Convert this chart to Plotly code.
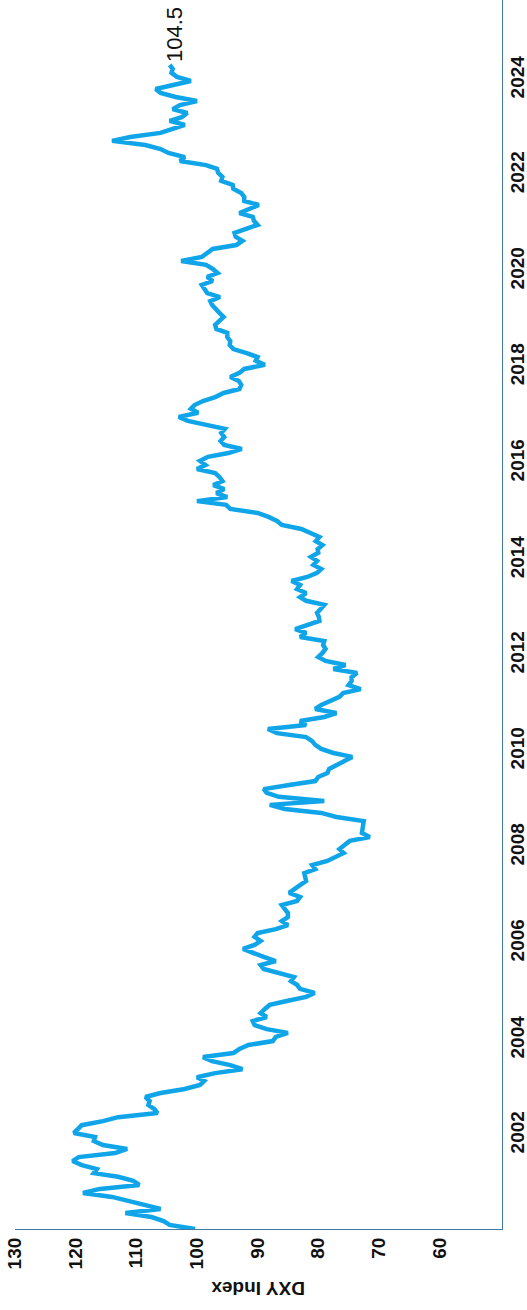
import pandas as pd
import plotly.graph_objects as go

# Monthly DXY index readings, Jan 2000 .. Apr 2024
dxy_2000 = [100.3, 104.5, 105.5, 107.5, 111.8, 106.0, 108.5, 111.0, 114.0, 118.8, 116.0, 109.5]
dxy_2001 = [110.5, 113.0, 117.0, 116.5, 119.0, 120.5, 119.5, 113.5, 111.5, 115.5, 117.0, 116.8]
dxy_2002 = [120.3, 119.6, 119.0, 115.5, 113.0, 106.5, 107.0, 108.0, 107.8, 108.5, 106.0, 102.0]
dxy_2003 = [99.5, 98.8, 100.0, 97.0, 92.5, 94.5, 97.5, 99.0, 94.0, 93.0, 91.5, 87.5]
dxy_2004 = [87.0, 85.0, 88.5, 90.5, 90.8, 88.5, 89.5, 88.8, 88.0, 85.2, 82.0, 80.6]
dxy_2005 = [83.0, 83.5, 84.5, 84.0, 86.5, 89.0, 89.5, 87.0, 89.0, 90.5, 92.4, 90.5]
dxy_2006 = [89.5, 90.5, 90.0, 87.0, 85.0, 86.0, 85.0, 85.0, 85.5, 86.0, 83.5, 83.0]
dxy_2007 = [84.8, 84.0, 83.0, 82.0, 82.2, 82.3, 80.5, 81.0, 78.5, 77.0, 75.8, 76.5]
dxy_2008 = [75.5, 74.8, 71.5, 72.8, 72.7, 72.5, 72.5, 77.0, 79.5, 85.5, 88.0, 79.0]
dxy_2009 = [86.5, 88.5, 89.0, 84.8, 80.5, 80.0, 78.5, 78.2, 76.8, 75.8, 74.4, 77.5]
dxy_2010 = [79.5, 80.5, 81.0, 82.0, 86.8, 88.3, 82.0, 83.0, 79.0, 77.0, 80.5, 79.5]
dxy_2011 = [78.0, 76.5, 75.9, 73.0, 75.0, 74.5, 74.5, 73.6, 77.5, 75.5, 78.8, 80.0]
dxy_2012 = [79.3, 78.8, 79.2, 79.0, 83.0, 82.0, 83.8, 81.8, 79.8, 79.9, 80.2, 79.6]
dxy_2013 = [79.0, 82.0, 83.0, 82.0, 83.5, 83.0, 84.4, 81.8, 80.2, 79.5, 80.8, 80.2]
dxy_2014 = [81.2, 80.0, 80.1, 79.3, 80.4, 79.8, 81.5, 82.8, 86.0, 86.8, 88.2, 90.0]
dxy_2015 = [94.5, 95.2, 100.0, 95.0, 96.8, 95.5, 97.3, 95.8, 96.3, 97.0, 100.0, 98.6]
dxy_2016 = [99.5, 98.2, 94.8, 92.6, 95.5, 96.1, 95.5, 96.0, 95.4, 98.4, 101.5, 103.0]
dxy_2017 = [99.8, 101.0, 100.4, 99.0, 97.0, 95.6, 93.0, 92.7, 93.1, 94.5, 93.0, 92.2]
dxy_2018 = [88.8, 90.3, 90.0, 91.8, 94.0, 94.6, 94.5, 95.0, 95.0, 96.8, 97.0, 96.3]
dxy_2019 = [95.6, 96.3, 97.0, 97.5, 97.8, 96.2, 98.3, 98.8, 99.2, 97.4, 98.3, 96.6]
dxy_2020 = [97.4, 98.5, 102.6, 99.2, 98.3, 97.4, 93.5, 92.5, 93.6, 93.8, 91.9, 90.0]
dxy_2021 = [90.6, 90.8, 93.0, 91.3, 89.8, 92.2, 92.2, 92.7, 94.0, 94.1, 96.0, 95.8]
dxy_2022 = [96.5, 96.7, 98.5, 102.8, 102.0, 104.7, 106.0, 108.5, 114.0, 111.0, 106.0, 104.0]
dxy_2023 = [102.0, 104.5, 102.5, 101.6, 104.0, 102.8, 100.0, 103.5, 106.0, 106.8, 103.5, 101.0]
dxy_2024 = [103.3, 104.2, 104.0, 104.5]

dxy_values = (dxy_2000 + dxy_2001 + dxy_2002 + dxy_2003 + dxy_2004 + dxy_2005 + dxy_2006
              + dxy_2007 + dxy_2008 + dxy_2009 + dxy_2010 + dxy_2011 + dxy_2012 + dxy_2013
              + dxy_2014 + dxy_2015 + dxy_2016 + dxy_2017 + dxy_2018 + dxy_2019 + dxy_2020
              + dxy_2021 + dxy_2022 + dxy_2023 + dxy_2024)
dates = pd.date_range("2000-01-01", periods=len(dxy_values), freq="MS")

value_ticks = [60, 70, 80, 90, 100, 110, 120, 130]
year_ticks = [str(y) for y in range(2002, 2026, 2)]
last_label = "104.5"

LINE = "#10A5E8"
AXIS = "#3F7BA3"
FONT = "Liberation Sans, Arial, sans-serif"

fig = go.Figure()
fig.add_trace(go.Scatter(
    x=dxy_values, y=dates, mode="lines",
    line=dict(color=LINE, width=4.5),
    hoverinfo="skip", showlegend=False,
))

fig.add_annotation(
    x=dxy_values[-1], y=dates[-1], xref="x", yref="y",
    text=last_label, showarrow=False, textangle=-90,
    xanchor="center", yanchor="bottom", xshift=5, yshift=1,
    font=dict(family=FONT, size=22, color="#111111"),
)
fig.add_annotation(
    x=0.5, y=-0.048, xref="paper", yref="paper",
    text="DXY Index", showarrow=False, textangle=180,
    xanchor="center", yanchor="middle",
    font=dict(family=FONT, size=19, color="#111111", weight="bold"),
)
# year tick labels, rotated, to the right of the date axis line
for yr in year_ticks:
    fig.add_annotation(
        x=1, y=f"{yr}-01-01", xref="paper", yref="y",
        text=yr, showarrow=False, textangle=-90,
        xanchor="center", yanchor="middle", xshift=15.5,
        font=dict(family=FONT, size=19, color="#111111", weight="bold"),
    )

fig.update_layout(
    width=527, height=1310,
    margin=dict(l=15, r=25, t=0, b=81),
    paper_bgcolor="white", plot_bgcolor="white",
    xaxis=dict(
        range=[130, 49.7], tickvals=value_ticks,
        ticktext=[str(v) for v in value_ticks],
        tickangle=-90, showgrid=False, zeroline=False,
        showline=True, linecolor=AXIS, linewidth=1.2,
        ticks="", ticklabelstandoff=0, ticklabeloverflow="allow",
        tickfont=dict(family=FONT, size=19, color="#111111", weight="bold"),
    ),
    yaxis=dict(
        range=["2000-01-01", "2025-08-08"], side="right",
        tickvals=[f"{y}-01-01" for y in year_ticks],
        showticklabels=False, showgrid=False, zeroline=False,
        showline=True, linecolor=AXIS, linewidth=1.2, ticks="",
    ),
)

# remove the page's default 8px body margin so the figure fills the window
fig.write_html("out.html", config={"displayModeBar": False},
               post_script="document.body.style.margin='0';")
